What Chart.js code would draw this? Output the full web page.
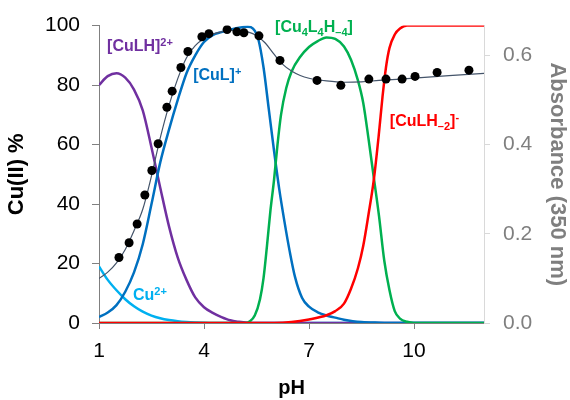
<!DOCTYPE html>
<html>
<head>
<meta charset="utf-8">
<script src="https://cdn.jsdelivr.net/npm/chart.js@4.4.1/dist/chart.umd.min.js"></script>
<style>
  html, body { margin: 0; padding: 0; background: #fff; }
  #wrap { width: 570px; height: 400px; }
</style>
</head>
<body>
<div id="wrap"><canvas id="specChart" width="570" height="400"></canvas></div>
<script>
const FONT = '"Liberation Sans", Arial, sans-serif';

// tick labels
const pHTicks = [1, 4, 7, 10];
const pctTicks = [0, 20, 40, 60, 80, 100];
const absTicks = [0, 0.2, 0.4, 0.6];

// species distribution (% of Cu(II))
const pHCu = [1, 1.25, 1.5, 1.75, 2, 2.25, 2.5, 2.75, 3, 3.25, 3.5, 3.75, 4, 4.5, 12];
const valCu = [19, 14.5, 11, 8, 5.6, 3.8, 2.5, 1.6, 1.0, 0.6, 0.35, 0.2, 0.1, 0, 0];

const pHCuLH = [1, 1.25, 1.5, 1.75, 2, 2.25, 2.5, 2.75, 3, 3.25, 3.5, 3.75, 4, 4.25, 4.5, 4.75, 5, 5.25, 5.5, 12];
const valCuLH = [80, 83, 84, 82.5, 78.5, 71.5, 59, 45.5, 32.5, 22, 14.5, 8.6, 5.3, 3.4, 2, 0.9, 0.4, 0.1, 0, 0];

const pHCuL = [1, 1.25, 1.5, 1.75, 2, 2.25, 2.5, 2.75, 3, 3.25, 3.5, 3.75, 4, 4.25, 4.5, 4.75, 5, 5.25, 5.4, 5.55, 5.7, 5.85, 6, 6.15, 6.3, 6.45, 6.6, 6.8, 7, 7.25, 7.5, 7.75, 8, 8.25, 8.5, 9, 9.5, 12];
const valCuL = [2, 3.5, 6, 10.5, 17, 26.5, 40, 54, 65, 75, 84, 90, 94.5, 96.8, 97.8, 98.6, 99.3, 99.6, 99, 95.5, 86, 72, 58, 45, 34, 24, 15.5, 8.5, 5.5, 3.6, 2.5, 1.8, 1.1, 0.6, 0.3, 0.1, 0, 0];

const pHCu4 = [1, 5.2, 5.3, 5.45, 5.6, 5.7, 5.8, 5.9, 6, 6.1, 6.2, 6.35, 6.5, 6.75, 7, 7.25, 7.5, 7.75, 8, 8.2, 8.4, 8.55, 8.7, 8.85, 9, 9.15, 9.3, 9.45, 9.6, 9.8, 10, 12];
const valCu4 = [0, 0, 0.5, 2.5, 8, 15, 26, 38, 48, 60, 70, 79, 84.5, 89.5, 92.8, 94.8, 96, 95.5, 93, 88.5, 81.5, 74, 62, 49, 36, 21, 11, 4, 1.5, 0.4, 0, 0];

const pHCuLH2 = [1, 6, 6.5, 7, 7.5, 7.75, 8, 8.2, 8.4, 8.55, 8.7, 8.85, 9, 9.1, 9.2, 9.3, 9.45, 9.6, 9.8, 12];
const valCuLH2 = [0, 0, 0.3, 1.2, 2.6, 4, 6.5, 11.5, 18.5, 26, 36.5, 48, 64, 76, 86, 92.5, 97, 99, 100, 100];

// absorbance at 350 nm: measured points and fitted line
const pHAbs = [1.57, 1.86, 2.09, 2.31, 2.51, 2.69, 2.94, 3.09, 3.34, 3.54, 3.94, 4.14, 4.66, 4.94, 5.14, 5.57, 6.17, 7.23, 7.91, 8.71, 9.2, 9.66, 10.03, 10.66, 11.57];
const absMeas = [0.147, 0.180, 0.222, 0.287, 0.342, 0.402, 0.484, 0.520, 0.573, 0.609, 0.642, 0.649, 0.658, 0.653, 0.651, 0.644, 0.589, 0.544, 0.533, 0.547, 0.547, 0.547, 0.553, 0.562, 0.567];

const pHFit = [1, 1.25, 1.5, 1.75, 2, 2.25, 2.5, 2.75, 3, 3.25, 3.5, 3.75, 4, 4.25, 4.5, 4.75, 5, 5.25, 5.5, 5.75, 6, 6.25, 6.5, 6.75, 7, 7.5, 8, 8.5, 9, 10, 11, 12];
const absFit = [0.100, 0.114, 0.135, 0.165, 0.207, 0.255, 0.330, 0.415, 0.488, 0.548, 0.595, 0.622, 0.638, 0.648, 0.653, 0.656, 0.656, 0.653, 0.645, 0.628, 0.603, 0.580, 0.565, 0.555, 0.549, 0.543, 0.540, 0.541, 0.544, 0.549, 0.555, 0.560];

const speciesLabels = [
    { x: 1.23, y: 91.4, color: '#7030A0', parts: [['[CuLH]'], ['2+', 'sup']] },
    { x: 3.69, y: 81.7, color: '#0070C0', parts: [['[CuL]'], ['+', 'sup']] },
    { x: 6.03, y: 98.0, color: '#00B050', parts: [['[Cu'], ['4', 'sub'], ['L'], ['4', 'sub'], ['H'], ['\u20134', 'sub'], [']']] },
    { x: 9.31, y: 66.4, color: '#FF0000', parts: [['[CuLH'], ['\u20132', 'sub'], [']'], ['-', 'sup']] },
    { x: 1.97, y: 7.6, color: '#00B0F0', parts: [['Cu'], ['2+', 'sup']] }
];

function toPoints(xs, ys) {
    return xs.map((x, i) => ({ x: x, y: ys[i] }));
}

function speciesLine(xs, ys, color, order) {
    return {
        data: toPoints(xs, ys),
        yAxisID: 'y',
        borderColor: color,
        backgroundColor: color,
        borderWidth: 2.5,
        pointRadius: 0,
        fill: false,
        cubicInterpolationMode: 'monotone',
        order: order
    };
}

// species names with sub/superscripts, placed in data coordinates
const labelPlugin = {
    id: 'speciesLabels',
    afterDatasetsDraw(chart) {
        const ctx = chart.ctx;
        const xs = chart.scales.x;
        const ys = chart.scales.y;
        ctx.save();
        ctx.textBaseline = 'alphabetic';
        ctx.textAlign = 'left';
        speciesLabels.forEach(lab => {
            let px = xs.getPixelForValue(lab.x);
            const py = ys.getPixelForValue(lab.y);
            ctx.fillStyle = lab.color;
            lab.parts.forEach(([txt, kind]) => {
                const small = kind === 'sup' || kind === 'sub';
                ctx.font = (small ? 'bold 11px ' : 'bold 16px ') + FONT;
                const dy = kind === 'sup' ? -5 : (kind === 'sub' ? 4 : 0);
                ctx.fillText(txt, px, py + dy);
                px += ctx.measureText(txt).width;
            });
        });
        ctx.restore();
    }
};

const datasets = [
    {
        data: toPoints(pHAbs, absMeas),
        yAxisID: 'y2',
        showLine: false,
        pointRadius: 4.5,
        pointBackgroundColor: '#000',
        pointBorderColor: '#000',
        pointBorderWidth: 0,
        order: 0
    },
    {
        data: toPoints(pHFit, absFit),
        yAxisID: 'y2',
        borderColor: '#44546A',
        borderWidth: 1.2,
        pointRadius: 0,
        fill: false,
        cubicInterpolationMode: 'monotone',
        order: 1
    },
    speciesLine(pHCuLH2, valCuLH2, '#FF0000', 2),
    speciesLine(pHCu4, valCu4, '#00B050', 3),
    speciesLine(pHCuL, valCuL, '#0070C0', 4),
    speciesLine(pHCuLH, valCuLH, '#7030A0', 5),
    speciesLine(pHCu, valCu, '#00B0F0', 6)
];

const ctx = document.getElementById('specChart').getContext('2d');
const chart = new Chart(ctx, {
    type: 'line',
    data: { datasets: datasets },
    plugins: [labelPlugin],
    options: {
        responsive: false,
        animation: false,
        layout: { padding: { top: 22, left: 0, right: 0, bottom: 0 } },
        plugins: { legend: { display: false }, tooltip: { enabled: false } },
        scales: {
            x: {
                type: 'linear',
                min: 1,
                max: 12,
                afterBuildTicks: s => { s.ticks = pHTicks.map(v => ({ value: v })); },
                afterFit: s => { s.height = 77; },
                ticks: { font: { family: FONT, size: 21 }, color: '#000', padding: 10, maxRotation: 0 },
                grid: { drawOnChartArea: false, drawTicks: true, tickLength: 6, color: '#808080' },
                border: { color: '#808080' },
                title: { display: true, text: 'pH', color: '#000', font: { family: FONT, size: 20, weight: 'bold' }, padding: { top: 0, bottom: 0 } }
            },
            y: {
                position: 'left',
                min: 0,
                max: 100,
                afterBuildTicks: s => { s.ticks = pctTicks.map(v => ({ value: v })); },
                afterFit: s => { s.width = 99; },
                ticks: { font: { family: FONT, size: 21 }, color: '#000', padding: 12 },
                grid: { drawOnChartArea: false, drawTicks: true, tickLength: 7, color: '#808080' },
                border: { color: '#808080' },
                title: { display: true, text: 'Cu(II) %', color: '#000', font: { family: FONT, size: 22, weight: 'bold' }, padding: { top: 4, bottom: 4 } }
            },
            y2: {
                position: 'right',
                min: 0,
                max: 0.667,
                afterBuildTicks: s => { s.ticks = absTicks.map(v => ({ value: v })); },
                afterFit: s => { s.width = 86; },
                ticks: { font: { family: FONT, size: 21 }, color: '#7F7F7F', padding: 13, callback: v => v.toFixed(1) },
                grid: { drawOnChartArea: false, drawTicks: true, tickLength: 6, color: '#D9D9D9' },
                border: { color: '#D9D9D9' },
                title: { display: true, text: 'Absorbance (350 nm)', color: '#7F7F7F', font: { family: FONT, size: 22, weight: 'bold' }, padding: { top: 0, bottom: 0 } }
            }
        }
    }
});
</script>
</body>
</html>
